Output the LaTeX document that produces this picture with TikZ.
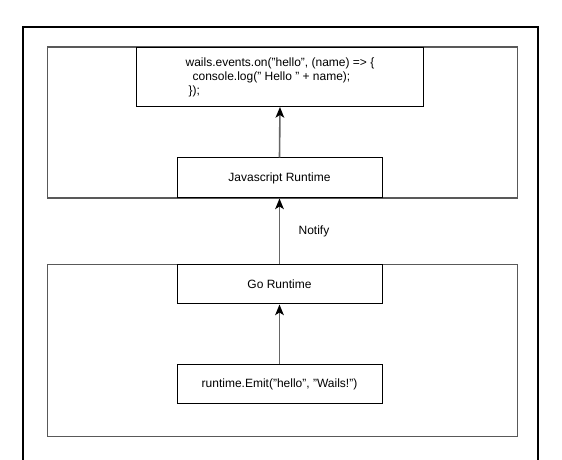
\documentclass[tikz,border=0pt]{standalone}
\usepackage{fontspec}
\setmainfont{Liberation Sans}
\usetikzlibrary{arrows.meta}
\begin{document}
\begin{tikzpicture}[x=0.75pt,y=-0.75pt,
  every node/.style={font=\fontsize{9pt}{10.5pt}\selectfont, inner sep=0pt},
  box/.style={draw=black, line width=0.75pt, rectangle, fill=white},
  frame/.style={draw=black!65, line width=1.3pt, rectangle},
  arr/.style={draw=black!60, line width=1.2pt, -{Stealth[length=8pt,width=6.5pt,inset=2pt,color=black]}}]
\useasboundingbox (0,0) rectangle (562,460);
\clip (0,0) rectangle (562,460);
\fill[white] (0,0) rectangle (562,460);
% outer frame (extends past bottom edge)
\node[draw=black, line width=0.8pt, minimum width=515*0.75pt, minimum height=460*0.75pt] (outer) at (280.5,257) {};
% inner frames
\node[frame, minimum width=470*0.75pt, minimum height=151*0.75pt] (jsframe) at (282.5,122.5) {};
\node[frame, minimum width=470*0.75pt, minimum height=172*0.75pt] (goframe) at (282.5,350.5) {};
% boxes
\node[box, minimum width=287*0.75pt, minimum height=59*0.75pt, align=left] (code) at (280,77)
  {wails.events.on("hello", (name) => \{\\\hspace{5.25pt}console.log(" Hello " + name);\\\hspace{2.25pt}\});};
\node[box, minimum width=205*0.75pt, minimum height=40*0.75pt] (js) at (279.5,178) {Javascript Runtime};
\node[box, minimum width=205*0.75pt, minimum height=39*0.75pt] (go) at (279.5,284.5) {Go Runtime};
\node[box, minimum width=205*0.75pt, minimum height=39*0.75pt] (emit) at (279.5,384.5) {runtime.Emit("hello", "Wails!")};
% arrows
\draw[arr] (js.north) -- (code.south);
\draw[arr] (go.north) -- (js.south);
\draw[arr] (emit.north) -- (go.south);
\node (notify) at (314,231) {Notify};
\end{tikzpicture}
\end{document}
